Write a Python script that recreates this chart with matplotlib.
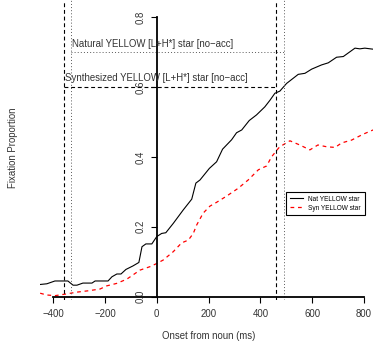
import matplotlib
matplotlib.use('Agg')
import matplotlib.pyplot as plt

plt.rcParams['font.family'] = ['Liberation Sans', 'DejaVu Sans']

# Nat YELLOW star (solid black)
nat_t = [-450, -424, -393, -343, -323, -308, -285, -250, -238, -188, -173, -154, -138,
         -119, -92, -69, -57, -42, -19, 0, 19, 35, 64, 102, 135, 151, 167, 203, 231,
         254, 289, 308, 328, 357, 385, 417, 437, 456, 475, 501, 546, 572, 598, 636,
         662, 694, 720, 765, 784, 803, 835]
nat_p = [0.035, 0.037, 0.045, 0.045, 0.033, 0.033, 0.039, 0.039, 0.045, 0.045, 0.057,
         0.065, 0.065, 0.078, 0.088, 0.098, 0.143, 0.151, 0.151, 0.172, 0.181, 0.183,
         0.210, 0.248, 0.279, 0.325, 0.334, 0.367, 0.386, 0.422, 0.449, 0.469, 0.477,
         0.504, 0.520, 0.543, 0.562, 0.582, 0.588, 0.610, 0.636, 0.639, 0.651, 0.663,
         0.669, 0.685, 0.687, 0.711, 0.709, 0.711, 0.708]

# Syn YELLOW star (dashed red)
syn_t = [-450, -425, -393, -348, -309, -264, -219, -193, -155, -116, -65, -26, 0, 25,
         64, 96, 122, 141, 154, 179, 205, 231, 270, 314, 353, 392, 424, 443, 469, 475,
         514, 552, 591, 622, 655, 688, 714, 752, 797, 835]
syn_p = [0.010, 0.005, 0.003, 0.008, 0.013, 0.017, 0.022, 0.031, 0.038, 0.050, 0.076,
         0.086, 0.095, 0.105, 0.129, 0.154, 0.162, 0.181, 0.205, 0.239, 0.259, 0.270,
         0.288, 0.310, 0.334, 0.363, 0.374, 0.400, 0.424, 0.429, 0.446, 0.434, 0.420,
         0.434, 0.429, 0.427, 0.440, 0.448, 0.465, 0.477]

# word windows: onset, offset, label height
nat_win = [-331, 490]
syn_win = [-358, 459]
nat_level = 0.70
syn_level = 0.60

xticks = [-400, -200, 0, 200, 400, 600, 800]
yticks = [0.0, 0.2, 0.4, 0.6, 0.8]

fig = plt.figure(figsize=(3.73, 3.42), dpi=100)
ax = fig.add_axes([40/373, 42/342, 333/373, 300/342])
ax.set_xlim(-450.6, 834.6)
ax.set_ylim(-0.0094, 0.8487)

ax.plot(nat_t, nat_p, color='black', lw=0.8, label='Nat YELLOW star')
ax.plot(syn_t, syn_p, color='red', lw=0.9, dashes=(3, 3), label='Syn YELLOW star')

dash = (0, (3.5, 2.5))
dot = (0, (1, 2.2))
for x in [syn_win[0], syn_win[1]]:
    ax.axvline(x, color='black', lw=0.8, ls=dash)
for x in [nat_win[0], nat_win[1]]:
    ax.axvline(x, color='0.35', lw=0.7, ls=dot)
ax.plot(nat_win, [nat_level, nat_level], color='0.35', lw=0.7, ls=dot)
ax.plot(syn_win, [syn_level, syn_level], color='black', lw=0.8, ls=dash)

ax.text(nat_win[0] + 2, nat_level + 0.013, 'Natural YELLOW [L+H*] star [no\u2212acc]',
        fontsize=6.9, color='0.2', va='baseline', ha='left')
ax.text(syn_win[0] + 2, syn_level + 0.017, 'Synthesized YELLOW [L+H*] star [no\u2212acc]',
        fontsize=6.9, color='0.2', va='baseline', ha='left')

for s in ['top', 'right']:
    ax.spines[s].set_visible(False)
ax.spines['bottom'].set_position(('data', 0))
ax.spines['bottom'].set_bounds(-400, 800)
ax.spines['left'].set_position(('data', 0))
ax.spines['left'].set_bounds(0, 0.8)
ax.spines['bottom'].set_linewidth(1.3)
ax.spines['left'].set_linewidth(1.3)

ax.set_xticks(xticks)
ax.set_xticklabels([str(v).replace('-', '\u2212') for v in xticks])
ax.set_yticks(yticks)
ax.set_yticklabels(['%.1f' % v for v in yticks])
ax.tick_params(axis='both', length=4.5, width=0.8, labelsize=6.9, colors='black',
               labelcolor='0.2')
ax.tick_params(axis='x', pad=4.5)
ax.tick_params(axis='y', pad=3.5, labelrotation=90)
for lab in ax.get_yticklabels():
    lab.set_va('center')

fig.text(13/373, 1 - 148/342, 'Fixation Proportion', rotation=90, fontsize=6.9,
         color='0.2', ha='center', va='center')
fig.text(208.5/373, 1 - 336/342, 'Onset from noun (ms)', fontsize=6.9,
         color='0.2', ha='center', va='center')

leg = ax.legend(loc='upper left', bbox_to_anchor=(286/373, 1 - 191.7/342),
                bbox_transform=fig.transFigure, fontsize=4.7, frameon=True,
                fancybox=False, edgecolor='black', framealpha=1, borderaxespad=0,
                handlelength=2.0, handletextpad=0.8, labelspacing=0.3, borderpad=0.6)
leg.get_frame().set_linewidth(0.8)

fig.savefig('out.png', dpi=100)
